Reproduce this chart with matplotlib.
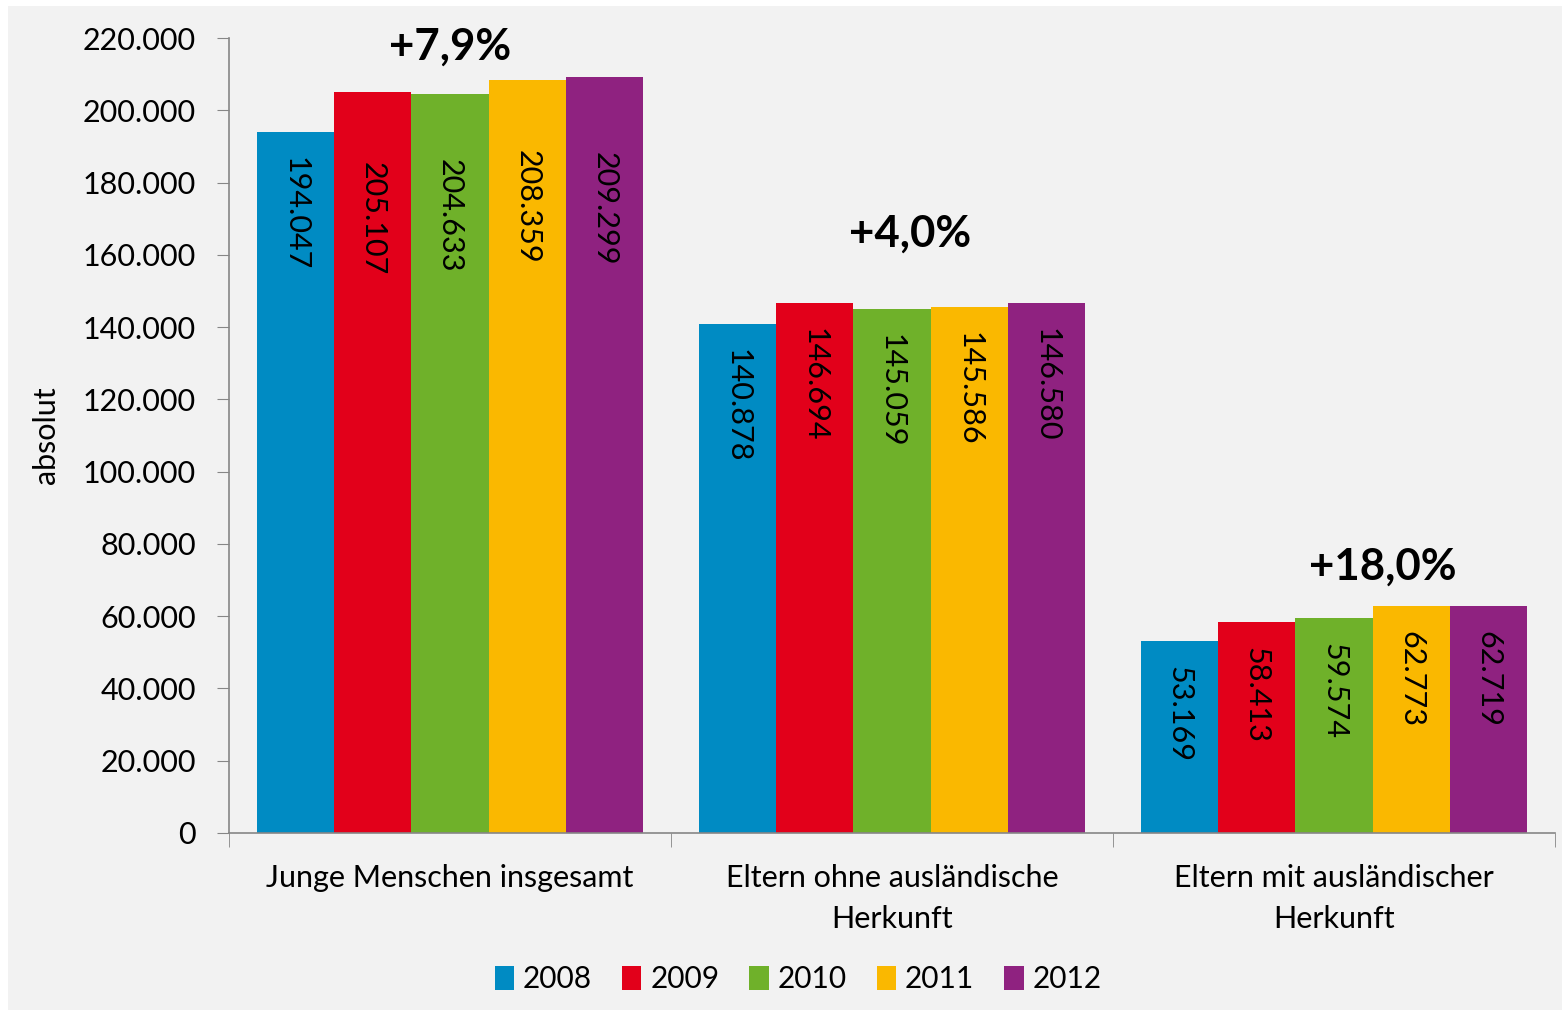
import numpy as np
import matplotlib.pyplot as plt
from matplotlib.patches import Rectangle
from matplotlib.ticker import FuncFormatter

# Junge Menschen nach Herkunft der Eltern, 2008-2012
categories = ['Junge Menschen insgesamt',
              'Eltern ohne ausländische\nHerkunft',
              'Eltern mit ausländischer\nHerkunft']
years = ['2008', '2009', '2010', '2011', '2012']
values = {
    '2008': [194047, 140878, 53169],
    '2009': [205107, 146694, 58413],
    '2010': [204633, 145059, 59574],
    '2011': [208359, 145586, 62773],
    '2012': [209299, 146580, 62719],
}
change_labels = ['+7,9%', '+4,0%', '+18,0%']
change_x = [0.0, 1.04, 2.11]
change_y = [217500, 165800, 73600]

colors = ['#008bc3', '#e2001a', '#6fb12a', '#fab800', '#8f2280']

plt.rcParams['font.family'] = ['Lato', 'DejaVu Sans']

fig = plt.figure(figsize=(15.62, 10.10), dpi=100)
fig.patch.set_facecolor('white')
# grey chart area with a thin white margin on top and left
fig.patches.append(Rectangle((8 / 1562, 0), 1, 1 - 6 / 1010, transform=fig.transFigure,
                             facecolor='#f2f2f2', edgecolor='none', zorder=-10))

ax = fig.add_axes([229 / 1562, 177 / 1010, 1326 / 1562, 795 / 1010])
ax.set_facecolor('none')

x = np.arange(len(categories))
width = 0.175
# labels of the first group sit a bit lower (pixels)
drop = {'2008': [0, 0, 0], '2009': [45, 0, 0], '2010': [40, 0, 0],
        '2011': [45, 0, 0], '2012': [50, 0, 0]}

for i, yr in enumerate(years):
    pos = x + (i - 2) * width
    ax.bar(pos, values[yr], width, color=colors[i], label=yr, edgecolor='none')
    for j, (px, v) in enumerate(zip(pos, values[yr])):
        txt = f'{v:,}'.replace(',', '.')
        ax.annotate(txt, (px, v), xytext=(0, -18 - drop[yr][j] * 0.72),
                    textcoords='offset points', rotation=-90,
                    ha='center', va='top', fontsize=22, color='black')

for cx, cy, lab in zip(change_x, change_y, change_labels):
    ax.text(cx, cy, lab, ha='center', va='center', fontsize=31.5, fontweight='bold')

ax.set_xlim(-0.5, 2.5)
ax.set_ylim(0, 220000)
ax.set_yticks(np.arange(0, 220001, 20000))
ax.yaxis.set_major_formatter(FuncFormatter(lambda v, p: f'{int(v):,}'.replace(',', '.')))
ax.tick_params(axis='y', length=9, color='#868686', labelsize=22, pad=15)

ax.set_xticks(x)
ax.set_xticklabels(categories, fontsize=22, linespacing=1.6)
ax.set_xticks([-0.5, 0.5, 1.5, 2.5], minor=True)
ax.tick_params(axis='x', which='major', length=0, pad=22)
ax.tick_params(axis='x', which='minor', length=10, color='#868686')

for side in ['top', 'right']:
    ax.spines[side].set_visible(False)
for side in ['left', 'bottom']:
    ax.spines[side].set_color('#868686')
    ax.spines[side].set_linewidth(1.2)

ax.set_ylabel('absolut', fontsize=22, labelpad=16)

fig.legend(loc='center', bbox_to_anchor=(0.511, 1 - 979 / 1010), ncol=5, frameon=False,
           fontsize=21.5, handlelength=0.65, handleheight=0.85, handletextpad=0.3,
           columnspacing=1.0)

fig.savefig('out.png', dpi=100, facecolor=fig.get_facecolor())
